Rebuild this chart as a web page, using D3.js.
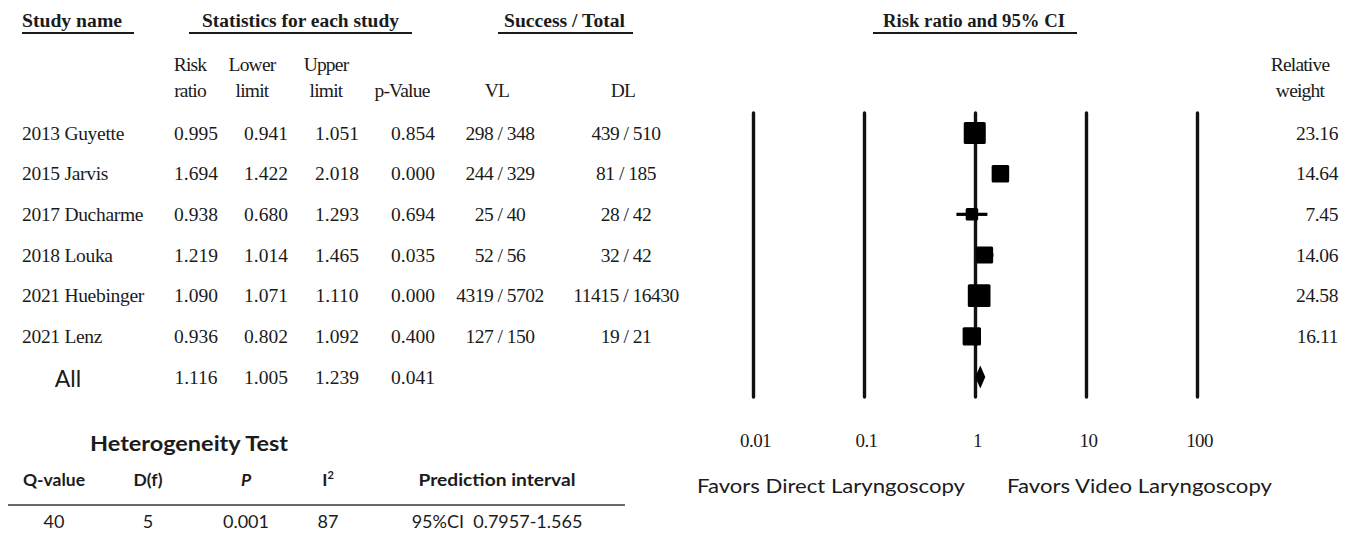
<!DOCTYPE html>
<html>
<head>
<meta charset="utf-8">
<script src="https://cdn.jsdelivr.net/npm/d3@7"></script>
<style>
  html, body { margin: 0; padding: 0; background: #fff; }
  svg { display: block; }
  .serif { font-family: "Liberation Serif", "Times New Roman", serif; fill: #1b1b1b; }
  .sans { font-family: Lato, "Open Sans", "Liberation Sans", sans-serif; fill: #1b1b1b; }
</style>
</head>
<body>
<svg id="chart" width="1356" height="543"></svg>
<script>
// Study-level results (risk ratio, video vs direct laryngoscopy)
const studies   = ["2013 Guyette", "2015 Jarvis", "2017 Ducharme", "2018 Louka", "2021 Huebinger", "2021 Lenz"];
const riskRatio = [0.995, 1.694, 0.938, 1.219, 1.090, 0.936];
const lowerCI   = [0.941, 1.422, 0.680, 1.014, 1.071, 0.802];
const upperCI   = [1.051, 2.018, 1.293, 1.465, 1.110, 1.092];
const pValues   = ["0.854", "0.000", "0.694", "0.035", "0.000", "0.400"];
const vlCounts  = ["298 / 348", "244 / 329", "25 / 40", "52 / 56", "4319 / 5702", "127 / 150"];
const dlCounts  = ["439 / 510", "81 / 185", "28 / 42", "32 / 42", "11415 / 16430", "19 / 21"];
const weights   = [23.16, 14.64, 7.45, 14.06, 24.58, 16.11];

// Pooled estimate
const pooled = { label: "All", rr: 1.116, lo: 1.005, hi: 1.239, p: "0.041" };

// Axis ticks
const tickValues = [0.01, 0.1, 1, 10, 100];
const tickLabels = ["0.01", "0.1", "1", "10", "100"];

// Heterogeneity table
const hetHeaders = ["Q-value", "D(f)", "P", "I", "Prediction interval"];
const hetValues  = ["40", "5", "0.001", "87", "95%CI  0.7957-1.565"];

const svg = d3.select("#chart");

// Scales
const x = d3.scaleLog().domain([0.01, 100]).range([753, 1197]);
const y = d3.scalePoint().domain([...studies, pooled.label]).range([133, 377]);
const boxSize = d3.scaleSqrt().domain([0, d3.max(weights)]).range([0, 22.7]);

const col = { name: 22, rr: 196, lo: 266, hi: 337, p: 413, vl: 500, dl: 626, w: 1338 };

// ---- Section headers (bold, underlined)
const headers = [
  { t: "Study name", x: 22, w: 100, u0: 22, u1: 134 },
  { t: "Statistics for each study", x: 202, w: 197, u0: 189, u1: 412 },
  { t: "Success / Total", x: 504, w: 121, u0: 498, u1: 633 },
  { t: "Risk ratio and 95% CI", x: 883, w: 182, u0: 873, u1: 1077 }
];
const hg = svg.append("g");
hg.selectAll("text").data(headers).join("text")
  .attr("class", "serif")
  .attr("x", d => d.x).attr("y", 27)
  .attr("font-size", 18).attr("font-weight", "bold")
  .attr("textLength", d => d.w).attr("lengthAdjust", "spacingAndGlyphs")
  .text(d => d.t);
hg.selectAll("line").data(headers).join("line")
  .attr("x1", d => d.u0).attr("x2", d => d.u1)
  .attr("y1", 33).attr("y2", 33)
  .attr("stroke", "#1b1b1b").attr("stroke-width", 2);

// ---- Column sub-headers
const subHeads = [
  { x: col.rr - 6, lines: ["Risk", "ratio"] },
  { x: col.lo - 14, lines: ["Lower", "limit"] },
  { x: col.hi - 11, lines: ["Upper", "limit"] },
  { x: 402, lines: ["", "p-Value"] },
  { x: 497, lines: ["", "VL"] },
  { x: 623, lines: ["", "DL"] },
  { x: 1300, lines: ["Relative", "weight"] }
];
const sh = svg.append("g").selectAll("text").data(subHeads).join("text")
  .attr("class", "serif").attr("font-size", 19.5)
  .attr("text-anchor", "middle").attr("letter-spacing", -0.8);
sh.selectAll("tspan").data(d => d.lines.map((l, i) => ({ l, i, x: d.x }))).join("tspan")
  .attr("x", d => d.x).attr("y", d => 71 + d.i * 26)
  .text(d => d.l);

// ---- Study rows
const rows = studies.map((s, i) => ({
  name: s, rr: riskRatio[i], lo: lowerCI[i], hi: upperCI[i],
  p: pValues[i], vl: vlCounts[i], dl: dlCounts[i], w: weights[i]
}));

const tg = svg.append("g").attr("class", "serif").attr("font-size", 19.5);
const rowG = tg.selectAll("g").data(rows).join("g")
  .attr("transform", d => `translate(0,${y(d.name) + 6.5})`);
rowG.append("text").attr("x", col.name).attr("letter-spacing", -0.3).text(d => d.name);
rowG.append("text").attr("x", col.rr).attr("text-anchor", "middle").text(d => d.rr.toFixed(3));
rowG.append("text").attr("x", col.lo).attr("text-anchor", "middle").text(d => d.lo.toFixed(3));
rowG.append("text").attr("x", col.hi).attr("text-anchor", "middle").text(d => d.hi.toFixed(3));
rowG.append("text").attr("x", col.p).attr("text-anchor", "middle").text(d => d.p);
rowG.append("text").attr("x", col.vl).attr("text-anchor", "middle").attr("letter-spacing", -0.5).text(d => d.vl);
rowG.append("text").attr("x", col.dl).attr("text-anchor", "middle").attr("letter-spacing", -0.5).text(d => d.dl);
rowG.append("text").attr("x", col.w).attr("text-anchor", "end").attr("letter-spacing", -0.4).text(d => d.w.toFixed(2));

// Pooled row
const pg = svg.append("g").attr("transform", `translate(0,${y(pooled.label) + 6.5})`);
pg.append("text").attr("class", "sans").attr("x", 68).attr("y", 3).attr("font-size", 23)
  .attr("text-anchor", "middle").text(pooled.label);
const pt = pg.append("g").attr("class", "serif").attr("font-size", 19.5).attr("text-anchor", "middle");
pt.append("text").attr("x", col.rr).text(pooled.rr.toFixed(3));
pt.append("text").attr("x", col.lo).text(pooled.lo.toFixed(3));
pt.append("text").attr("x", col.hi).text(pooled.hi.toFixed(3));
pt.append("text").attr("x", col.p).text(pooled.p);

// ---- Forest plot: vertical reference lines and axis labels
const plotTop = 113, plotBottom = 397;
const axis = d3.axisBottom(x)
  .tickValues(tickValues)
  .tickFormat((d, i) => tickLabels[i])
  .tickSizeInner(-(plotBottom - plotTop))
  .tickSizeOuter(0)
  .tickPadding(37);
const ax = svg.append("g").attr("transform", `translate(0,${plotBottom})`).call(axis);
ax.select(".domain").remove();
ax.selectAll(".tick line").attr("stroke", "#111").attr("stroke-width", 3.4).attr("stroke-linecap", "round");
ax.selectAll(".tick text")
  .attr("font-family", "'Liberation Serif', 'Times New Roman', serif")
  .attr("font-size", 19).attr("fill", "#1b1b1b").attr("letter-spacing", -0.6)
  .attr("dx", 2);

// Confidence intervals
const fg = svg.append("g");
fg.selectAll("line.ci").data(rows).join("line").attr("class", "ci")
  .attr("x1", d => x(d.lo)).attr("x2", d => x(d.hi))
  .attr("y1", d => y(d.name)).attr("y2", d => y(d.name))
  .attr("stroke", "#000").attr("stroke-width", 3.2).attr("stroke-linecap", "butt");

// Weighted point estimates
fg.selectAll("rect.pt").data(rows).join("rect").attr("class", "pt")
  .attr("x", d => x(d.rr) - boxSize(d.w) / 2)
  .attr("y", d => y(d.name) - boxSize(d.w) / 2)
  .attr("width", d => boxSize(d.w)).attr("height", d => boxSize(d.w))
  .attr("rx", 1.5).attr("fill", "#000");

// Pooled diamond
const yp = y(pooled.label);
fg.append("path")
  .attr("d", `M${x(pooled.lo)},${yp} L${x(pooled.rr)},${yp - 11.5} L${x(pooled.hi)},${yp} L${x(pooled.rr)},${yp + 11.5} Z`)
  .attr("fill", "#000");

// Favours labels
const fav = svg.append("g").attr("class", "sans").attr("font-size", 19.5);
fav.append("text").attr("x", 697).attr("y", 493)
  .attr("textLength", 268).attr("lengthAdjust", "spacingAndGlyphs")
  .text("Favors Direct Laryngoscopy");
fav.append("text").attr("x", 1007).attr("y", 493)
  .attr("textLength", 265).attr("lengthAdjust", "spacingAndGlyphs")
  .text("Favors Video Laryngoscopy");

// ---- Heterogeneity table
const het = svg.append("g").attr("class", "sans");
het.append("text").attr("x", 90).attr("y", 451).attr("font-size", 20.5).attr("font-weight", "bold")
  .attr("textLength", 198).attr("lengthAdjust", "spacingAndGlyphs")
  .text("Heterogeneity Test");

const hetX = [54, 148, 246, 328, 497];
const hh = het.append("g").attr("font-size", 17.5).attr("font-weight", "bold").attr("text-anchor", "middle");
hetHeaders.forEach((h, i) => {
  const t = hh.append("text").attr("x", hetX[i]).attr("y", 486);
  if (h === "P") {
    t.attr("font-style", "italic").text(h);
  } else if (h === "I") {
    t.text(h).append("tspan").attr("font-size", 11).attr("dy", -7).text("2");
  } else if (h === "Prediction interval") {
    t.attr("textLength", 157).attr("lengthAdjust", "spacingAndGlyphs").text(h);
  } else {
    t.text(h);
  }
});
het.append("line").attr("x1", 8).attr("x2", 625).attr("y1", 505).attr("y2", 505)
  .attr("stroke", "#6a6a6a").attr("stroke-width", 2);
het.append("g").attr("font-size", 18).attr("text-anchor", "middle")
  .selectAll("text").data(hetValues).join("text")
  .attr("x", (d, i) => hetX[i]).attr("y", 528)
  .attr("xml:space", "preserve")
  .text(d => d);
</script>
</body>
</html>
